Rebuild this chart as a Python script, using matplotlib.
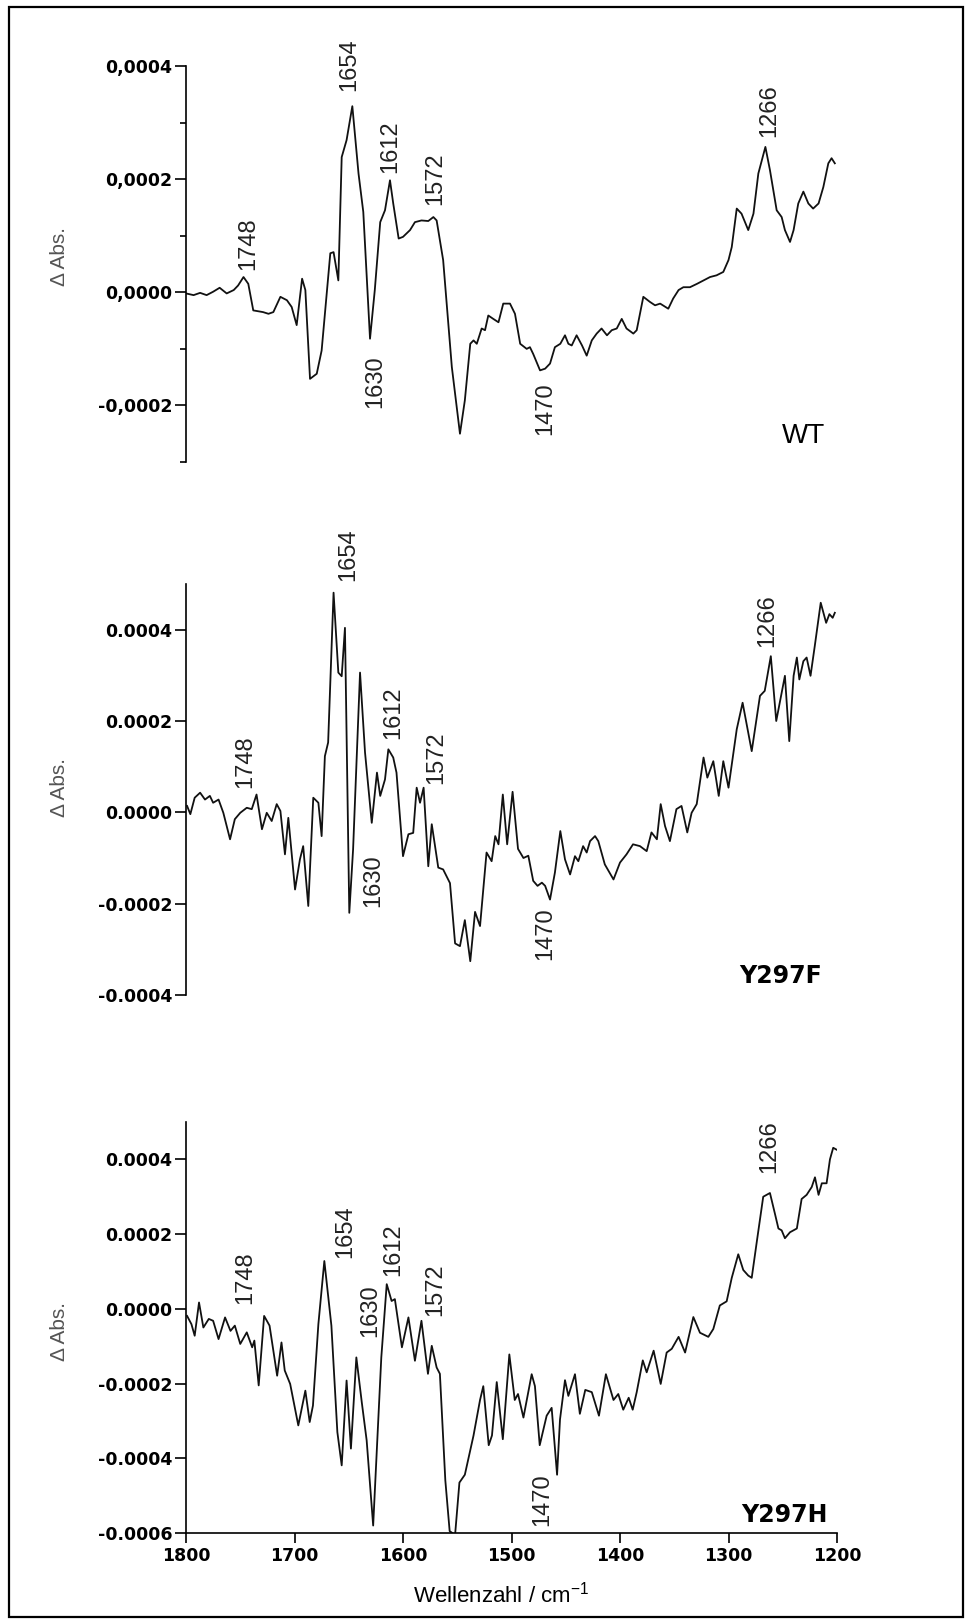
import matplotlib.pyplot as plt
from matplotlib.patches import Rectangle

plt.rcParams['font.family'] = ['Liberation Sans', 'DejaVu Sans']
plt.rcParams['mathtext.default'] = 'regular'

# wavenumber (cm^-1) and difference absorbance (units of 1e-4)
wn_wt = [1800, 1793, 1787, 1781, 1775, 1769, 1762.5, 1756, 1752, 1747, 1742.6, 1738, 1729, 1724,
         1719.5, 1713, 1707, 1702.6, 1698, 1693, 1690, 1685.7, 1679.5, 1675, 1667, 1664, 1659.6,
         1656.5, 1652, 1646.7, 1641, 1636.6, 1630.4, 1626, 1621, 1616.6, 1612, 1609, 1604, 1600,
         1593.5, 1589, 1583, 1576.7, 1572, 1569, 1563, 1555, 1547.5, 1543, 1538, 1535, 1532,
         1527.5, 1524.4, 1521.4, 1516.8, 1512, 1507.6, 1501.4, 1496.8, 1492, 1486, 1483, 1480,
         1473.7, 1469, 1464.5, 1460, 1455, 1450.7, 1447.6, 1444.5, 1440, 1435, 1430.7, 1426,
         1421.5, 1417, 1412, 1407.6, 1403, 1398.4, 1394, 1387.7, 1384.6, 1378.5, 1372.4, 1367.7,
         1363, 1355.5, 1351, 1346, 1341.6, 1335.5, 1329, 1323, 1317, 1311, 1304.8, 1300, 1297,
         1292.4, 1288, 1281.8, 1277, 1272.5, 1266, 1261.8, 1255.6, 1251, 1248, 1243.3, 1240,
         1235.7, 1231, 1226.4, 1222, 1217, 1212.6, 1208, 1205, 1202]
dabs_wt = [-0.02, -0.05, -0.01, -0.05, 0.01, 0.08, -0.02, 0.04, 0.12, 0.27, 0.15, -0.32, -0.35, -0.38,
           -0.35, -0.08, -0.14, -0.26, -0.58, 0.24, 0.04, -1.53, -1.44, -1.03, 0.69, 0.71, 0.21,
           2.39, 2.69, 3.29, 2.10, 1.42, -0.82, 0.04, 1.24, 1.45, 1.98, 1.57, 0.95, 0.98,
           1.10, 1.24, 1.27, 1.26, 1.33, 1.27, 0.57, -1.32, -2.50, -1.91, -0.91, -0.85, -0.91,
           -0.64, -0.67, -0.41, -0.47, -0.53, -0.20, -0.20, -0.38, -0.91, -1.00, -0.97, -1.09,
           -1.38, -1.35, -1.26, -0.97, -0.91, -0.76, -0.91, -0.94, -0.76, -0.94, -1.12, -0.85,
           -0.73, -0.64, -0.76, -0.67, -0.64, -0.47, -0.64, -0.73, -0.67, -0.08, -0.17, -0.23,
           -0.20, -0.29, -0.11, 0.04, 0.09, 0.09, 0.15, 0.21, 0.27, 0.30, 0.36, 0.57, 0.80,
           1.48, 1.39, 1.10, 1.39, 2.10, 2.57, 2.16, 1.45, 1.33, 1.10, 0.89, 1.10,
           1.57, 1.78, 1.57, 1.48, 1.57, 1.86, 2.28, 2.37, 2.28]

wn_f = [1799, 1796, 1792, 1787, 1782.5, 1778, 1775, 1770, 1765.6, 1759.4, 1755, 1750, 1744, 1739.4,
        1735, 1730, 1725.6, 1721, 1716.4, 1713, 1708.8, 1705.7, 1699.5, 1695, 1692, 1687.3, 1682.7,
        1678, 1675, 1672, 1669, 1664, 1659.6, 1656.5, 1653.5, 1649.5, 1646, 1639.6, 1635, 1628.8,
        1624, 1621, 1616.6, 1613.5, 1609, 1606, 1600, 1595, 1590.6, 1587.4, 1584.3, 1581, 1576.7,
        1573.5, 1567.5, 1563, 1556.7, 1552, 1547.5, 1543, 1538, 1533.6, 1529, 1523, 1518.3, 1515,
        1512, 1508, 1504, 1499, 1494, 1489, 1484.5, 1480, 1476, 1472, 1469, 1464.5, 1460, 1455,
        1450.7, 1446, 1441.5, 1438.4, 1434, 1430.7, 1427.6, 1423, 1420, 1414, 1406, 1400, 1394,
        1388, 1381.6, 1375.4, 1371, 1366, 1362.5, 1358.5, 1354, 1348, 1343.3, 1338, 1334, 1329.3,
        1323, 1319.5, 1314, 1309, 1304.8, 1300, 1292.4, 1287, 1278.6, 1271, 1266.6, 1261, 1256,
        1251, 1248, 1244, 1240, 1237, 1234.7, 1231, 1228, 1224.4, 1220.5, 1215, 1210, 1207, 1204,
        1202]
dabs_f = [0.14, -0.04, 0.32, 0.43, 0.28, 0.36, 0.21, 0.28, -0.01, -0.59, -0.15, -0.01, 0.10, 0.07,
          0.39, -0.37, -0.01, -0.19, 0.18, 0.03, -0.92, -0.12, -1.69, -1.03, -0.74, -2.05, 0.32,
          0.21, -0.52, 1.23, 1.53, 4.81, 3.06, 2.98, 4.04, -2.20, -0.81, 3.06, 1.31, -0.23,
          0.87, 0.36, 0.72, 1.38, 1.20, 0.87, -0.96, -0.48, -0.45, 0.54, 0.21, 0.54, -1.18,
          -0.26, -1.21, -1.25, -1.55, -2.87, -2.93, -2.36, -3.26, -2.18, -2.49, -0.88, -1.07, -0.52,
          -0.70, 0.39, -0.70, 0.45, -0.80, -1.00, -0.95, -1.50, -1.61, -1.54, -1.61, -1.91, -1.32, -0.41,
          -1.03, -1.36, -0.96, -1.07, -0.74, -0.88, -0.63, -0.52, -0.63, -1.14, -1.47, -1.10, -0.92,
          -0.70, -0.74, -0.85, -0.44, -0.59, 0.18, -0.30, -0.63, 0.07, 0.14, -0.44, -0.01, 0.18,
          1.20, 0.76, 1.12, 0.36, 1.12, 0.54, 1.82, 2.40, 1.34, 2.55, 2.66, 3.42, 2.00,
          2.62, 2.99, 1.56, 2.99, 3.39, 2.91, 3.31, 3.39, 2.99, 3.64, 4.59, 4.15, 4.34, 4.26,
          4.37]

wn_h = [1799, 1795, 1792, 1788, 1784, 1779, 1775, 1770, 1764, 1759, 1755, 1750, 1744, 1739, 1737,
        1733, 1728, 1723, 1716, 1712, 1709, 1704, 1696.5, 1690, 1686, 1683, 1678, 1672.5, 1666,
        1660.5, 1656.5, 1652, 1648, 1643, 1638, 1633.5, 1627.5, 1620, 1615, 1610.5, 1607.5, 1601,
        1595, 1589, 1583, 1577, 1573.5, 1569, 1566, 1561, 1557, 1552, 1548, 1543, 1535, 1529,
        1526, 1521, 1518, 1513.6, 1508, 1502, 1497, 1494, 1489, 1481.4, 1478.4, 1474, 1467.6,
        1463, 1458, 1455.3, 1450.7, 1447.6, 1441.5, 1437, 1432, 1426, 1419.4, 1413, 1406, 1401.6,
        1397, 1392, 1388.3, 1384.6, 1379, 1375.4, 1369, 1362.5, 1357, 1352.3, 1346, 1340, 1332.4,
        1326.3, 1318.6, 1314, 1308, 1301.7, 1297, 1291, 1286.4, 1281.8, 1278.6, 1274, 1268,
        1261.8, 1257, 1254, 1251, 1248, 1243.3, 1237, 1232.6, 1228, 1223.3, 1220.3, 1217, 1214,
        1209.6, 1206.5, 1203.5, 1200.4]
dabs_h = [-0.19, -0.41, -0.72, 0.17, -0.50, -0.27, -0.32, -0.81, -0.23, -0.59, -0.45, -0.94, -0.63,
          -1.03, -0.85, -2.05, -0.19, -0.45, -1.79, -0.90, -1.65, -2.01, -3.12, -2.19, -3.03, -2.59,
          -0.41, 1.28, -0.45, -3.30, -4.19, -1.92, -3.74, -1.30, -2.50, -3.52, -5.80, -1.30, 0.66,
          0.21, 0.26, -1.03, -0.23, -1.39, -0.32, -1.74, -0.99, -1.57, -1.74, -4.59, -5.95, -6.05,
          -4.65, -4.44, -3.39, -2.44, -2.07, -3.65, -3.39, -1.96, -3.49, -1.22, -2.44, -2.28, -2.91,
          -1.75, -2.07, -3.65, -2.86, -2.65, -4.44, -2.96, -1.91, -2.33, -1.75, -2.81, -2.17, -2.23,
          -2.86, -1.75, -2.44, -2.28, -2.70, -2.38, -2.70, -2.23, -1.38, -1.70, -1.12, -2.01, -1.17,
          -1.07, -0.75, -1.17, -0.22, -0.64, -0.75, -0.54, 0.09, 0.20, 0.83, 1.46, 1.04, 0.89,
          0.83, 1.78, 3.00, 3.10, 2.52, 2.15, 2.10, 1.89, 2.05, 2.15, 2.94, 3.05, 3.26, 3.52,
          3.05, 3.36, 3.36, 4.00, 4.31, 4.26]

# peak annotations: text, wavenumber, label anchor (units of 1e-4)
peak_text = ['1748', '1654', '1630', '1612', '1572', '1470', '1266']
peak_wn_wt = [1743, 1650, 1626, 1612, 1570, 1468.5, 1262.6]
peak_y_wt = [0.39, 3.55, -1.12, 2.10, 1.54, -1.59, 2.75]
peak_wn_f = [1745, 1650.6, 1627.5, 1609, 1569, 1468.5, 1264]
peak_y_f = [0.54, 5.07, -0.92, 1.60, 0.61, -2.09, 3.61]
peak_wn_h = [1745.6, 1652.8, 1630, 1609, 1570, 1472, 1262.6]
peak_y_h = [0.12, 1.37, -0.76, 0.88, -0.19, -5.81, 3.63]

panels = [
    dict(name='WT', wn=wn_wt, y=dabs_wt, pwn=peak_wn_wt, py=peak_y_wt, below=['1630', '1470'],
         ylim=(-3, 4), major=[-2, 0, 2, 4], minor=[-3, -1, 1, 3], comma=True,
         rect=[0.19255, 0.71481, 0.67391, 0.24444], ylab_y=0.52,
         tag_pos=(0.982, 0.048), tag_bold=False),
    dict(name='Y297F', wn=wn_f, y=dabs_f, pwn=peak_wn_f, py=peak_y_f, below=['1630', '1470'],
         ylim=(-4, 5), major=[-4, -2, 0, 2, 4], minor=[], comma=False,
         rect=[0.19255, 0.38580, 0.67391, 0.25370], ylab_y=0.506,
         tag_pos=(0.977, 0.029), tag_bold=True),
    dict(name='Y297H', wn=wn_h, y=dabs_h, pwn=peak_wn_h, py=peak_y_h, below=[],
         ylim=(-6, 5), major=[-6, -4, -2, 0, 2, 4], minor=[], comma=False,
         rect=[0.19255, 0.05370, 0.67391, 0.25370], ylab_y=0.49,
         tag_pos=(0.986, 0.027), tag_bold=True),
]

x_ticks = [1800, 1700, 1600, 1500, 1400, 1300, 1200]

fig = plt.figure(figsize=(9.66, 16.2), dpi=100)
fig.add_artist(Rectangle((0.0093, 0.0019), 0.9876, 0.9938, transform=fig.transFigure,
                         fill=False, lw=1.6, ec='black'))

tick_font = dict(fontfamily='DejaVu Sans', fontweight='bold', fontsize=12.5)

for i, p in enumerate(panels):
    ax = fig.add_axes(p['rect'])
    ax.plot(p['wn'], [v * 1e-4 for v in p['y']], color='#111111', lw=1.3)
    ax.set_xlim(1800, 1200)
    ax.set_ylim(p['ylim'][0] * 1e-4, p['ylim'][1] * 1e-4)

    for s in ['top', 'right']:
        ax.spines[s].set_visible(False)
    ax.spines['left'].set_linewidth(1.2)

    labels = []
    for v in p['major']:
        s = '%.4f' % (v * 1e-4 + 0.0)
        if v == 0:
            s = '0.0000'
        if p['comma']:
            s = s.replace('.', ',')
        labels.append(s)
    ax.set_yticks([v * 1e-4 for v in p['major']], labels=labels, **tick_font)
    if p['minor']:
        ax.set_yticks([v * 1e-4 for v in p['minor']], minor=True)
    ax.tick_params(axis='y', which='major', direction='out', length=8, width=1.2, pad=2)
    ax.tick_params(axis='y', which='minor', direction='out', length=4, width=1.2)

    if i < 2:
        ax.spines['bottom'].set_visible(False)
        ax.tick_params(axis='x', bottom=False, labelbottom=False)
    else:
        ax.spines['bottom'].set_linewidth(1.2)
        ax.set_xticks(x_ticks, labels=[str(t) for t in x_ticks], **tick_font)
        ax.tick_params(axis='x', direction='out', length=7, width=1.2, pad=3)
        ax.set_xlabel('Wellenzahl / cm$^{-1}$', fontsize=16)
        ax.xaxis.set_label_coords(0.484, -0.119)

    ax.set_ylabel('\u0394 Abs.', fontsize=15, color='#555555', va='center')
    ax.yaxis.set_label_coords(-0.194, p['ylab_y'])

    for txt, w, yv in zip(peak_text, p['pwn'], p['py']):
        va = 'top' if txt in p['below'] else 'bottom'
        ax.text(w, yv * 1e-4, txt, rotation=90, ha='center', va=va, fontsize=17,
                color='#222222')

    if p['tag_bold']:
        ax.text(p['tag_pos'][0], p['tag_pos'][1], p['name'], transform=ax.transAxes,
                ha='right', va='baseline', fontsize=17, fontweight='bold',
                fontfamily='DejaVu Sans')
    else:
        ax.text(p['tag_pos'][0], p['tag_pos'][1], p['name'], transform=ax.transAxes,
                ha='right', va='baseline', fontsize=20)

fig.savefig('out.png', dpi=100)
